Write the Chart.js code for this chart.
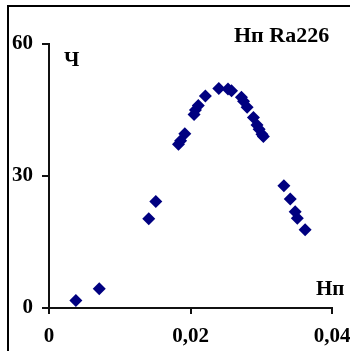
<!DOCTYPE html>
<html>
<head>
<meta charset="utf-8">
<script src="https://cdn.jsdelivr.net/npm/chart.js@4"></script>
<style>
  body { margin: 0; background: #fff; }
  #wrap { position: relative; width: 350px; height: 351px; overflow: hidden; }
  #frame { position: absolute; left: 7px; top: 5px; width: 400px; height: 400px; border: 2px solid #000; }
  canvas { position: absolute; left: 0; top: 0; }
</style>
</head>
<body>
<div id="wrap">
  <div id="frame"></div>
  <canvas id="chart" width="380" height="351"></canvas>
</div>
<script>
// Нп vs Ч, Ra226
const hpValues = [0.0038, 0.0071, 0.0141, 0.0151, 0.0183, 0.0186, 0.0192, 0.0205, 0.0207, 0.0211,
    0.0221, 0.0240, 0.0253, 0.0258, 0.0272, 0.0275, 0.0280, 0.0289, 0.0294, 0.0297,
    0.0301, 0.0303, 0.0332, 0.0341, 0.0348, 0.0351, 0.0362];
const chValues = [1.7, 4.4, 20.3, 24.2, 37.2, 38.0, 39.6, 44.0, 45.0, 46.0,
    48.2, 49.9, 49.8, 49.4, 47.9, 47.0, 45.6, 43.3, 41.6, 40.6,
    39.5, 39.0, 27.8, 24.8, 21.9, 20.4, 17.8];
const xTicks = [0, 0.02, 0.04];
const yTicks = [0, 30, 60];

const font = { family: '"Liberation Serif", "Times New Roman", serif', size: 21, weight: 'bold' };
const axisColor = '#111';

// axis lines, tick marks, title and axis names
const labelsPlugin = {
    id: 'labels',
    afterDraw(chart) {
        const ctx = chart.ctx;
        const xs = chart.scales.x, ys = chart.scales.y;
        const a = chart.chartArea;
        const left = Math.round(a.left), bottom = Math.round(a.bottom), top = Math.round(a.top);
        ctx.save();
        ctx.fillStyle = axisColor;
        ctx.fillRect(left - 1, top - 1, 2, bottom - top + 2);
        ctx.fillRect(left - 1, bottom - 1, Math.round(a.right) - left + 2, 2);
        xTicks.forEach(v => {
            const px = Math.round(xs.getPixelForValue(v));
            ctx.fillRect(px - 1, bottom, 2, 6);
        });
        yTicks.forEach(v => {
            const py = Math.round(ys.getPixelForValue(v));
            ctx.fillRect(left - 7, py - 1, 6, 2);
        });

        ctx.fillStyle = '#000';
        ctx.textBaseline = 'alphabetic';
        ctx.textAlign = 'left';
        ctx.font = 'bold 22px "Liberation Serif", serif';
        ctx.fillText('Нп Ra226', 234, 42);
        ctx.font = 'bold 21px "Liberation Serif", serif';
        ctx.fillText('Ч', 64, 66);
        ctx.fillText('Нп', 316, 295);
        ctx.restore();
    }
};

new Chart(document.getElementById('chart').getContext('2d'), {
    type: 'scatter',
    data: {
        datasets: [{
            label: 'Нп Ra226',
            data: hpValues.map((x, i) => ({ x: x, y: chValues[i] })),
            backgroundColor: '#000080',
            borderColor: '#000080',
            pointStyle: 'rectRot',
            pointRadius: 6.5,
            borderWidth: 0
        }]
    },
    options: {
        responsive: false,
        animation: false,
        layout: { padding: { top: 44, right: 48, left: 0, bottom: 0 } },
        plugins: {
            legend: { display: false },
            tooltip: { enabled: false }
        },
        scales: {
            x: {
                type: 'linear',
                min: 0,
                max: 0.04,
                afterBuildTicks: s => { s.ticks = xTicks.map(v => ({ value: v })); },
                afterFit: s => { s.height = 43; },
                ticks: {
                    color: '#000',
                    font: font,
                    padding: 10,
                    maxRotation: 0,
                    callback: v => String(v).replace('.', ',')
                },
                grid: { drawOnChartArea: false, drawTicks: true, tickLength: 6, color: axisColor, lineWidth: 2 },
                border: { color: axisColor, width: 2 }
            },
            y: {
                min: 0,
                max: 60,
                afterBuildTicks: s => { s.ticks = yTicks.map(v => ({ value: v })); },
                afterFit: s => { s.width = 49; },
                ticks: { color: '#000', font: font, padding: 10 },
                grid: { drawOnChartArea: false, drawTicks: true, tickLength: 6, color: axisColor, lineWidth: 2 },
                border: { color: axisColor, width: 2 }
            }
        }
    },
    plugins: [labelsPlugin]
});
</script>
</body>
</html>
